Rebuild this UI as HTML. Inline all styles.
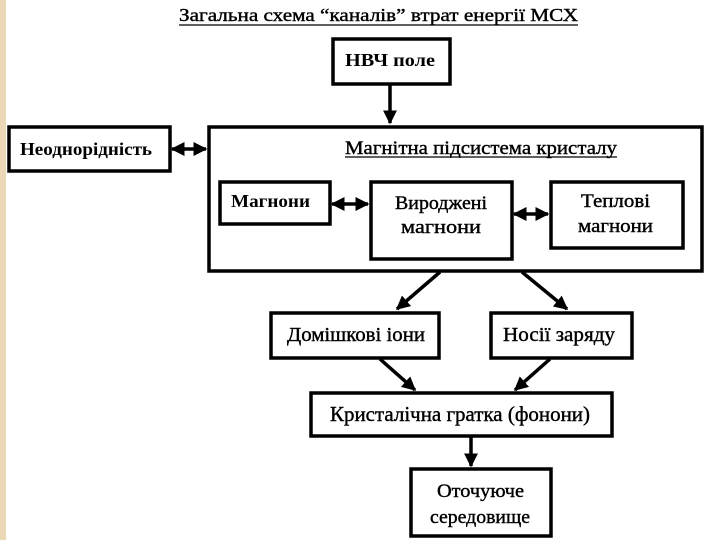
<!DOCTYPE html>
<html><head><meta charset="utf-8"><style>
html,body{margin:0;padding:0;background:#fff;width:720px;height:540px;overflow:hidden}
svg text{font-family:"Liberation Serif",serif;fill:#000}
</style></head><body>
<svg width="720" height="540" viewBox="0 0 720 540" xmlns="http://www.w3.org/2000/svg">
<defs>
<marker id="a" viewBox="0 0 10 10" refX="9" refY="5" markerWidth="4" markerHeight="4" orient="auto-start-reverse"><path d="M0,0L10,5L0,10z" fill="#000"/></marker>
</defs>
<rect x="0" y="0" width="6" height="540" fill="#ead9b4"/>
<g fill="none" stroke="#000" stroke-width="3.5">
<rect x="333" y="39" width="117" height="45"/>
<rect x="9" y="127" width="161" height="44"/>
<rect x="209" y="127" width="493" height="144"/>
<rect x="220" y="182" width="110" height="42"/>
<rect x="371" y="182" width="141" height="77"/>
<rect x="551" y="182" width="132" height="66"/>
<rect x="271" y="313" width="168" height="45"/>
<rect x="491" y="313" width="141" height="45"/>
<rect x="311" y="393" width="301" height="43"/>
<rect x="411" y="469" width="140" height="67"/>
</g>
<g stroke="#000" stroke-width="3.5" fill="none">
<line x1="390" y1="84" x2="390" y2="123" marker-end="url(#a)"/>
<line x1="172" y1="149" x2="206" y2="149" marker-start="url(#a)" marker-end="url(#a)"/>
<line x1="332" y1="204" x2="368" y2="204" marker-start="url(#a)" marker-end="url(#a)"/>
<line x1="514" y1="214" x2="548" y2="214" marker-start="url(#a)" marker-end="url(#a)"/>
<line x1="440" y1="272" x2="397" y2="309" marker-end="url(#a)"/>
<line x1="522" y1="272" x2="567" y2="309" marker-end="url(#a)"/>
<line x1="380" y1="359" x2="415" y2="390" marker-end="url(#a)"/>
<line x1="550" y1="359" x2="515" y2="390" marker-end="url(#a)"/>
<line x1="471" y1="437" x2="471" y2="466" marker-end="url(#a)"/>
</g>
<g stroke="#000" stroke-width="0.4">
<text x="179" y="21" font-size="18" textLength="399" lengthAdjust="spacingAndGlyphs">Загальна схема “каналів” втрат енергії МСХ</text>
<text x="345" y="154" font-size="19" textLength="272" lengthAdjust="spacingAndGlyphs">Магнітна підсистема кристалу</text>
<text x="395" y="209" font-size="19" textLength="92" lengthAdjust="spacingAndGlyphs">Вироджені</text>
<text x="401" y="233" font-size="19" textLength="80" lengthAdjust="spacingAndGlyphs">магнони</text>
<text x="581" y="207" font-size="19" textLength="69" lengthAdjust="spacingAndGlyphs">Теплові</text>
<text x="578" y="232" font-size="19" textLength="75" lengthAdjust="spacingAndGlyphs">магнони</text>
<text x="287" y="341" font-size="20" textLength="138" lengthAdjust="spacingAndGlyphs">Домішкові іони</text>
<text x="503" y="341" font-size="20" textLength="112" lengthAdjust="spacingAndGlyphs">Носії заряду</text>
<text x="330" y="421" font-size="21" textLength="260" lengthAdjust="spacingAndGlyphs">Кристалічна гратка (фонони)</text>
<text x="437" y="497" font-size="19" textLength="87" lengthAdjust="spacingAndGlyphs">Оточуюче</text>
<text x="430" y="523" font-size="19" textLength="100" lengthAdjust="spacingAndGlyphs">середовище</text>
</g>
<line x1="179" y1="25" x2="578" y2="25" stroke="#000" stroke-width="1.2"/>
<line x1="345" y1="157" x2="617" y2="157" stroke="#000" stroke-width="1.3"/>
<text x="345" y="66" font-size="18" font-weight="bold" textLength="90" lengthAdjust="spacingAndGlyphs">НВЧ поле</text>
<text x="20" y="155" font-size="18" font-weight="bold" textLength="132" lengthAdjust="spacingAndGlyphs">Неоднорідність</text>
<text x="231" y="207" font-size="18" font-weight="bold" textLength="79" lengthAdjust="spacingAndGlyphs">Магнони</text>
</svg>
</body></html>
